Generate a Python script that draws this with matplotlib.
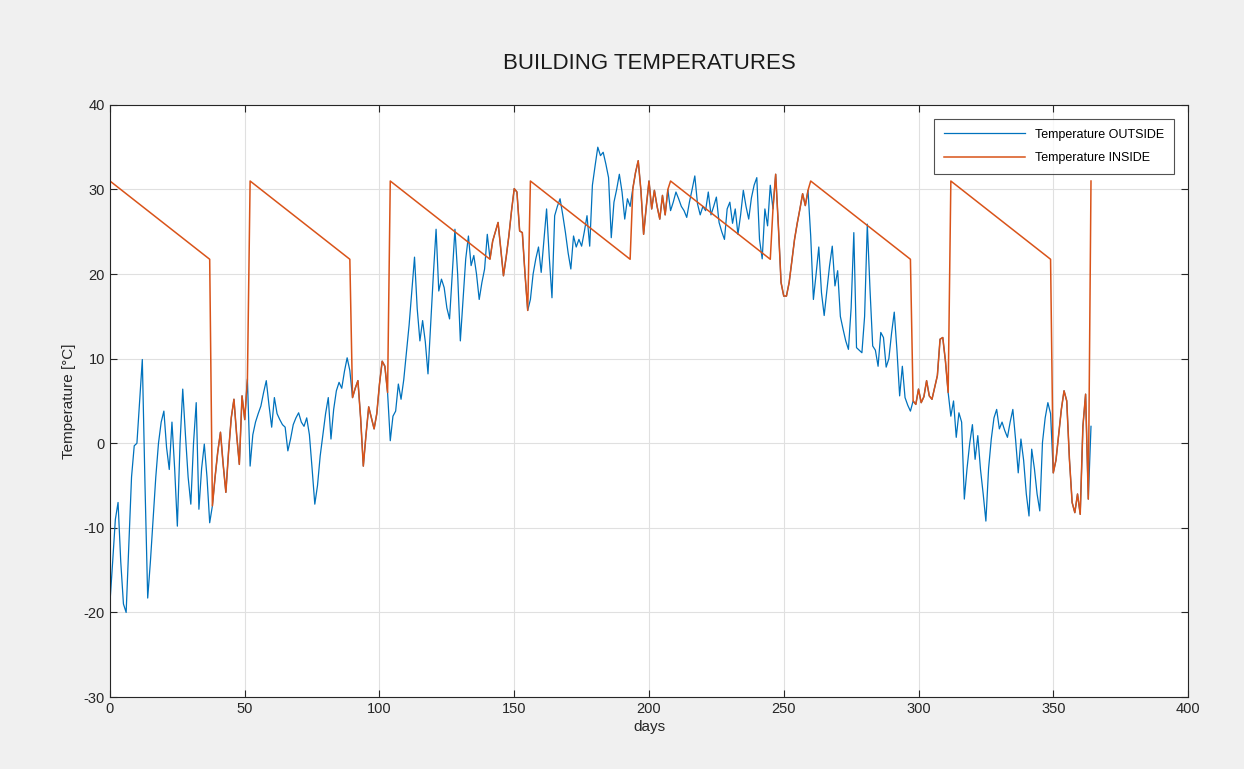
import matplotlib
matplotlib.use('Agg')
import matplotlib.pyplot as plt
import numpy as np

plt.rcParams['font.family'] = ['Liberation Sans', 'DejaVu Sans']
plt.rcParams['axes.unicode_minus'] = False

# outside temperature, one value per day (day 0..364)
outside = [
    -18.8, -14, -9, -7, -14, -19, -20, -12, -4, -0.3,
    0, 5, 9.9, -5, -18.3, -14, -9, -4, 0, 2.5,
    3.8, -0.5, -3.1, 2.5, -3, -9.8, 0, 6.4, 1, -4,
    -7.2, 0, 4.8, -7.8, -3, -0.1, -4, -9.4, -7.4, -4,
    -1, 1.3, -2.5, -5.8, -1, 3, 5.2, 1, -2.5, 5.6,
    2.8, 7.6, -2.7, 1, 2.5, 3.5, 4.4, 6, 7.4, 4.5,
    1.9, 5.4, 3.5, 2.8, 2.2, 1.9, -0.9, 0.5, 2.2, 3,
    3.6, 2.5, 2.0, 3.0, 1.0, -3, -7.2, -5, -1.5, 1,
    3.5, 5.4, 0.5, 4, 6.2, 7.2, 6.5, 8.5, 10.1, 8.6,
    5.4, 6.5, 7.4, 3, -2.7, 1, 4.3, 3, 1.7, 3.5,
    7, 9.7, 9.1, 6.0, 0.3, 3.2, 3.8, 7.0, 5.2, 7.5,
    10.7, 14, 18, 22.0, 15.9, 12.1, 14.5, 12, 8.2, 14,
    20, 25.3, 18.0, 19.4, 18.4, 16, 14.7, 20, 25.3, 20,
    12.1, 17, 21.8, 24.5, 21, 22.2, 20, 17.0, 19, 20.6,
    24.7, 21.8, 23.9, 25, 26.1, 23, 19.8, 22, 24.5, 27.5,
    30.1, 29.7, 25.1, 24.9, 20, 15.7, 17, 20, 21.8, 23.2,
    20.2, 24, 27.7, 22, 17.2, 26.9, 28, 28.9, 27, 24.9,
    22.5, 20.6, 24.5, 23.2, 24.1, 23.3, 25, 26.9, 23.3, 30.5,
    32.8, 35.0, 34.0, 34.4, 33, 31.4, 24.3, 28.5, 30, 31.8,
    29.7, 26.5, 28.9, 28, 30.1, 32, 33.4, 29.9, 24.7, 28,
    31.0, 27.7, 29.9, 28, 26.5, 29.3, 27, 30, 27.5, 28.5,
    29.7, 28.9, 28, 27.5, 26.7, 28.5, 30, 31.6, 28.3, 27,
    28, 27.5, 29.7, 27, 28, 29.1, 26.1, 25, 24.1, 27.7,
    28.5, 26, 27.7, 24.7, 27, 29.9, 28, 26.5, 29, 30.5,
    31.4, 24.1, 21.8, 27.7, 25.7, 30.5, 27.7, 31.8, 25.7, 19.0,
    17.4, 17.4, 19, 21.5, 24.1, 26, 27.7, 29.5, 28.1, 29.9,
    24.5, 17.0, 20, 23.2, 17.8, 15.1, 18, 21, 23.3, 18.6,
    20.4, 15, 13.5, 12.1, 11.1, 16, 24.9, 11.3, 11, 10.7,
    15, 25.9, 18.2, 11.5, 11, 9.1, 13.1, 12.5, 9.0, 10,
    13, 15.5, 11, 5.6, 9.1, 5.4, 4.5, 3.8, 5.0, 4.6,
    6.4, 4.8, 5.5, 7.4, 5.6, 5.2, 6.6, 8, 12.3, 12.5,
    9.7, 6.0, 3.2, 5.0, 0.7, 3.6, 2.5, -6.6, -3, 0,
    2.2, -1.9, 0.9, -3.1, -6, -9.2, -3, 0.5, 3, 4.0,
    1.7, 2.5, 1.5, 0.7, 2.5, 4.0, 0.5, -3.5, 0.5, -2,
    -6, -8.6, -0.7, -3, -6, -8.0, 0.1, 3, 4.8, 3.5,
    -3.5, -2, 1, 4, 6.2, 5, -1.9, -7.0, -8.2, -6,
    -8.4, 2.0, 5.8, -6.6, 2.0,
]
days = np.arange(len(outside))

# inside: heated back to the top value, cools linearly, then follows outside
ramp_start_days = [0, 52, 104, 156, 208, 260, 312, 364]
ramp_end_days = [37, 89, 141, 193, 245, 297, 349, 364]
ramp_high = 31.0
ramp_low = 21.75

inside_x, inside_y = [], []
for i, (s, e) in enumerate(zip(ramp_start_days, ramp_end_days)):
    inside_x.append(s)
    inside_y.append(ramp_high)
    if e == s:
        continue
    inside_x.append(e)
    inside_y.append(ramp_low)
    nxt = ramp_start_days[i + 1] if i + 1 < len(ramp_start_days) else len(outside)
    for d in range(e + 1, nxt):
        inside_x.append(d)
        inside_y.append(outside[d])

BLUE = '#0072BD'
ORANGE = '#D95319'
AX_COL = '#262626'

fig = plt.figure(figsize=(12.44, 7.69), dpi=100)
fig.patch.set_facecolor('#F0F0F0')
ax = fig.add_axes([0.0884, 0.0936, 0.8666, 0.77])

ax.plot(days, outside, '-', color=BLUE, linewidth=0.9, label='Temperature OUTSIDE')
ax.plot(inside_x, inside_y, '-', color=ORANGE, linewidth=1.1, label='Temperature INSIDE')

ax.set_xlim(0, 400)
ax.set_ylim(-30, 40)
ax.set_xticks(np.arange(0, 401, 50))
ax.set_yticks(np.arange(-30, 41, 10))
ax.grid(True, color='#E0E0E0', linewidth=0.8)
ax.set_axisbelow(True)
ax.tick_params(direction='in', length=5, labelsize=10.5, colors=AX_COL, top=True, right=True,
               labeltop=False, labelright=False)
for sp in ax.spines.values():
    sp.set_color(AX_COL)
    sp.set_linewidth(0.8)

ax.set_xlabel('days', fontsize=11, color=AX_COL, labelpad=3)
ax.set_ylabel('Temperature [°C]', fontsize=11, color=AX_COL, labelpad=6)
ax.set_title('BUILDING TEMPERATURES', fontsize=16, color='#1a1a1a', pad=26)

leg = ax.legend(loc='upper right', fontsize=9, frameon=True, fancybox=False,
                handlelength=6.5, borderaxespad=1.1, labelspacing=0.9, borderpad=0.8)
leg.get_frame().set_edgecolor(AX_COL)
leg.get_frame().set_linewidth(0.8)

plt.savefig('out.png', dpi=100, facecolor=fig.get_facecolor())
